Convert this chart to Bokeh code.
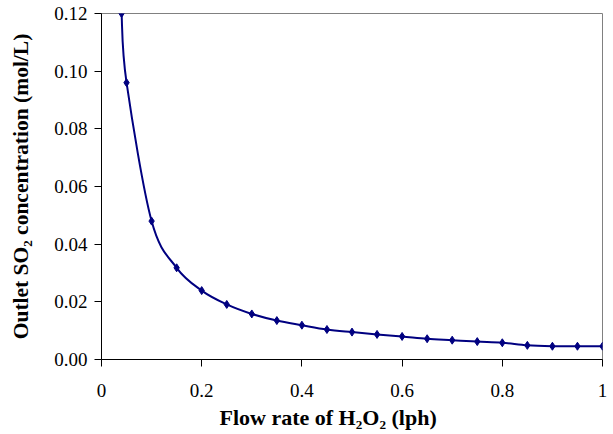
from bokeh.plotting import figure
from bokeh.models import Range1d, FixedTicker, Title
from bokeh.embed import file_html
from bokeh.resources import INLINE

# Data
flow_rate = [0.04, 0.05, 0.10, 0.15, 0.20, 0.25, 0.30, 0.35, 0.40, 0.45, 0.50,
             0.55, 0.60, 0.65, 0.70, 0.75, 0.80, 0.85, 0.90, 0.95, 1.00]
so2_conc = [0.120, 0.096, 0.048, 0.0318, 0.0239, 0.0191, 0.0158, 0.0135, 0.0119,
            0.0104, 0.0095, 0.0087, 0.0080, 0.0072, 0.0067, 0.0062, 0.0058,
            0.0049, 0.0046, 0.0046, 0.0046]

x_ticks = [0, 0.2, 0.4, 0.6, 0.8, 1.0]
x_tick_labels = ["0", "0.2", "0.4", "0.6", "0.8", "1"]
y_ticks = [0, 0.02, 0.04, 0.06, 0.08, 0.10, 0.12]
y_tick_labels = ["0.00", "0.02", "0.04", "0.06", "0.08", "0.10", "0.12"]

x_title = "Flow rate of H\u2082O\u2082 (lph)"
y_title = "Outlet SO\u2082 concentration (mol/L)"

NAVY = "#000080"
FONT = "Liberation Serif"

p = figure(width=613, height=434, output_backend="svg", toolbar_location=None,
           x_range=Range1d(0, 1), y_range=Range1d(0, 0.12),
           min_border_left=101, min_border_right=11, min_border_top=13,
           min_border_bottom=75)
p.background_fill_color = "white"
p.border_fill_color = "white"
p.outline_line_color = "#808080"
p.outline_line_width = 1
p.xgrid.visible = False
p.ygrid.visible = False

# Smoothed line (Catmull-Rom converted to cubic Bezier segments, from the data)
n = len(flow_rate)
x0s, y0s, x1s, y1s, cx0, cy0, cx1, cy1 = [], [], [], [], [], [], [], []
for i in range(n - 1):
    xa, ya = flow_rate[i], so2_conc[i]
    xb, yb = flow_rate[i + 1], so2_conc[i + 1]
    xp, yp = (flow_rate[i - 1], so2_conc[i - 1]) if i > 0 else (xa, ya)
    xn, yn = (flow_rate[i + 2], so2_conc[i + 2]) if i + 2 < n else (xb, yb)
    x0s.append(xa); y0s.append(ya); x1s.append(xb); y1s.append(yb)
    cx0.append(xa + (xb - xp) / 6); cy0.append(ya + (yb - yp) / 6)
    cx1.append(xb - (xn - xa) / 6); cy1.append(yb - (yn - ya) / 6)

p.bezier(x0=x0s, y0=y0s, x1=x1s, y1=y1s, cx0=cx0, cy0=cy0, cx1=cx1, cy1=cy1,
         line_color=NAVY, line_width=2)
p.scatter(flow_rate, so2_conc, marker="diamond", size=8,
          fill_color=NAVY, line_color=NAVY)

for ax in (p.xaxis[0], p.yaxis[0]):
    ax.axis_line_color = "black"
    ax.axis_line_width = 1
    ax.major_tick_line_color = "black"
    ax.major_tick_out = 7
    ax.major_tick_in = 0
    ax.minor_tick_line_color = None
    ax.major_label_text_font = FONT
    ax.major_label_text_font_size = "19px"
    ax.major_label_text_color = "black"
    ax.axis_label_text_font = FONT
    ax.axis_label_text_font_size = "21.5px"
    ax.axis_label_text_font_style = "bold"
    ax.axis_label_text_color = "black"

p.xaxis.ticker = FixedTicker(ticks=x_ticks)
p.xaxis.major_label_overrides = {t: l for t, l in zip(x_ticks, x_tick_labels)}
p.yaxis.ticker = FixedTicker(ticks=y_ticks)
p.yaxis.major_label_overrides = {t: l for t, l in zip(y_ticks, y_tick_labels)}
p.yaxis.axis_label = y_title
p.xaxis.major_label_standoff = 17
p.yaxis.major_label_standoff = 7
p.yaxis.axis_label_standoff = 18

xt = Title(text=x_title, align="left", offset=118, standoff=6,
           text_font=FONT, text_font_size="22px", text_font_style="bold",
           text_color="black")
p.add_layout(xt, "below")

open("out.html", "w").write(file_html(p, INLINE))
